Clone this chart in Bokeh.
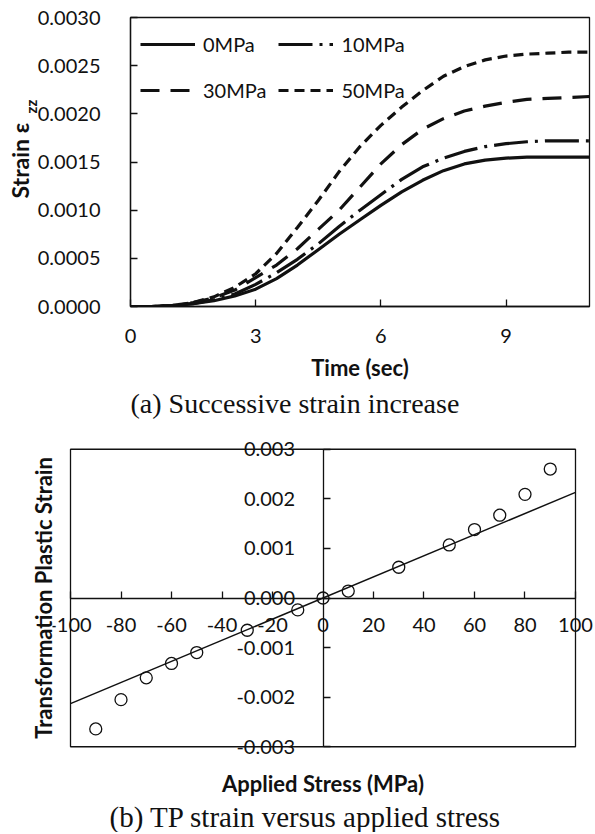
import numpy as np
from bokeh.plotting import figure
from bokeh.models import (Range1d, FixedTicker, PrintfTickFormatter, LinearAxis,
                          Legend, LegendItem, Title)
from bokeh.embed import file_html
from bokeh.resources import INLINE

# ---------------- data: (a) strain vs time ----------------
time_s = [0, 0.5, 1, 1.5, 2, 2.5, 3, 3.5, 4, 4.5, 5, 5.5, 6, 6.5, 7, 7.5, 8, 8.5, 9, 9.5, 10, 10.5, 11]
strain_0mpa = [0, 0, 0.00001, 0.00003, 0.00006, 0.00011, 0.00018, 0.00029, 0.00043, 0.00059, 0.00075,
               0.00090, 0.00105, 0.00119, 0.00131, 0.00141, 0.00148, 0.00152, 0.00154, 0.00155, 0.00155,
               0.00155, 0.00155]
strain_10mpa = [0, 0, 0.00001, 0.00003, 0.00007, 0.00013, 0.00023, 0.00035, 0.00049, 0.00065, 0.00083,
                0.00100, 0.00116, 0.00132, 0.00145, 0.00154, 0.00161, 0.00166, 0.00169, 0.00171, 0.00172,
                0.00172, 0.00172]
strain_30mpa = [0, 0, 0.00001, 0.00004, 0.00009, 0.00017, 0.00030, 0.00043, 0.00060, 0.00080, 0.00100,
                0.00124, 0.00148, 0.00168, 0.00184, 0.00195, 0.00203, 0.00208, 0.00212, 0.00215, 0.00216,
                0.00217, 0.00218]
strain_50mpa = [0, 0, 0.00001, 0.00004, 0.00010, 0.00020, 0.00034, 0.00055, 0.00082, 0.00110, 0.00140,
                0.00166, 0.00188, 0.00207, 0.00224, 0.00239, 0.00249, 0.00256, 0.00260, 0.00262, 0.00263,
                0.00264, 0.00264]
series_labels = ["0MPa", "10MPa", "30MPa", "50MPa"]
time_ticks = [0, 3, 6, 9]
strain_ticks = [0.0, 0.0005, 0.0010, 0.0015, 0.0020, 0.0025, 0.0030]

# ---------------- data: (b) TP strain vs applied stress ----------------
applied_stress = [-90, -80, -70, -60, -50, -30, -10, 0, 10, 30, 50, 60, 70, 80, 90]
tp_strain = [-0.00264, -0.00205, -0.00161, -0.00132, -0.00110, -0.00065, -0.00024, 0.0,
             0.00014, 0.00062, 0.00107, 0.00138, 0.00167, 0.00209, 0.00260]
fit_stress = [-100, 100]
fit_strain = [-0.00213, 0.00213]
stress_ticks = [-100, -80, -60, -40, -20, 0, 20, 40, 60, 80, 100]
tp_ticks = [-0.003, -0.002, -0.001, 0.0, 0.001, 0.002, 0.003]

SANS = "Lato"
SERIF = "Liberation Serif"
INK = "#111111"


def style_axis(ax, standoff):
    ax.axis_line_color = INK
    ax.axis_line_width = 1.3
    ax.major_tick_line_color = INK
    ax.major_tick_line_width = 1.3
    ax.major_tick_in = 7
    ax.major_tick_out = 0
    ax.minor_tick_line_color = None
    ax.major_label_text_font = SANS
    ax.major_label_text_font_size = "20px"
    ax.major_label_text_color = INK
    ax.major_label_standoff = standoff


# ================= figure (a) =================
p1 = figure(width=595, height=424, x_range=Range1d(0, 11), y_range=Range1d(0, 0.003),
            output_backend="svg", toolbar_location=None,
            min_border_left=130, min_border_right=6, min_border_top=17, min_border_bottom=118)
p1.grid.visible = False
p1.outline_line_color = INK
p1.outline_line_width = 1.3
p1.outline_line_alpha = 1.0

style_axis(p1.xaxis[0], 22)
style_axis(p1.yaxis[0], 30)
p1.xaxis[0].ticker = FixedTicker(ticks=time_ticks)
p1.yaxis[0].ticker = FixedTicker(ticks=strain_ticks)
p1.yaxis[0].formatter = PrintfTickFormatter(format="%.4f")
p1.xaxis[0].axis_label = "Time (sec)"
p1.xaxis[0].axis_label_text_font = SANS
p1.xaxis[0].axis_label_text_font_size = "22px"
p1.xaxis[0].axis_label_text_font_style = "bold"
p1.xaxis[0].axis_label_text_color = INK
p1.xaxis[0].axis_label_standoff = 8

dashes = ["solid", "34 7 3 7", "19 11", "10 6"]
series = [strain_0mpa, strain_10mpa, strain_30mpa, strain_50mpa]
items = []
for lab, ys, dash in zip(series_labels, series, dashes):
    r = p1.line(time_s, ys, line_color=INK, line_width=3.2, line_dash=dash)
    items.append(LegendItem(label=lab, renderers=[r]))

legend = Legend(items=items, location="top_left", orientation="horizontal", ncols=2,
                margin=10, padding=8, spacing=12, glyph_width=55, glyph_height=34,
                label_height=34, label_standoff=8,
                label_text_font=SANS, label_text_font_size="20px", label_text_color=INK,
                background_fill_alpha=0, border_line_color=None)
p1.add_layout(legend)

# y-axis title "Strain ε" with subscript "zz" (two rotated titles in the left panel)
p1.add_layout(Title(text="zz", text_font=SANS, text_font_size="15px", text_font_style="bold",
                    text_color=INK, align="left", offset=193, standoff=-10), "left")
p1.add_layout(Title(text="Strain \u03b5", text_font=SANS, text_font_size="23px", text_font_style="bold",
                    text_color=INK, align="left", offset=108, standoff=-18), "left")

p1.add_layout(Title(text="(a) Successive strain increase", text_font=SERIF, text_font_size="28px",
                    text_font_style="normal", text_color=INK, align="left", offset=0,
                    standoff=4), "below")

# ================= figure (b) =================
x_pad = 7.13      # room so that end tick labels are not clipped
y_pad = 0.000277
p2 = figure(width=595, height=408,
            x_range=Range1d(stress_ticks[0] - x_pad, stress_ticks[-1] + x_pad),
            y_range=Range1d(tp_ticks[0] - y_pad, tp_ticks[-1] + y_pad),
            output_backend="svg", toolbar_location=None,
            min_border_left=52, min_border_right=2, min_border_top=11, min_border_bottom=66)
p2.grid.visible = False
p2.outline_line_color = None

# plot box
p2.quad(left=[stress_ticks[0]], right=[stress_ticks[-1]], bottom=[tp_ticks[0]], top=[tp_ticks[-1]],
        fill_color=None, line_color=INK, line_width=1.3)

xa = p2.xaxis[0]
ya = p2.yaxis[0]
style_axis(xa, 20)
style_axis(ya, 28)
xa.ticker = FixedTicker(ticks=stress_ticks)
ya.ticker = FixedTicker(ticks=tp_ticks)
xa.formatter = PrintfTickFormatter(format="%d")
ya.formatter = PrintfTickFormatter(format="%.3f")
xa.fixed_location = 0
ya.fixed_location = 0
xa.bounds = (stress_ticks[0], stress_ticks[-1])
ya.bounds = (tp_ticks[0], tp_ticks[-1])

# label-only axes for the axis titles
xlab = LinearAxis(ticker=FixedTicker(ticks=[]), axis_line_color=None, major_tick_line_color=None,
                  minor_tick_line_color=None, major_label_standoff=0, major_tick_out=0, major_tick_in=0,
                  axis_label="Applied Stress (MPa)", axis_label_text_font=SANS,
                  axis_label_text_font_size="22px", axis_label_text_font_style="bold",
                  axis_label_text_color=INK, axis_label_standoff=9)
p2.add_layout(xlab, "below")
ylab = LinearAxis(ticker=FixedTicker(ticks=[]), axis_line_color=None, major_tick_line_color=None,
                  minor_tick_line_color=None, major_label_standoff=0, major_tick_out=0, major_tick_in=0,
                  axis_label="Transformation Plastic Strain", axis_label_text_font=SANS,
                  axis_label_text_font_size="22px", axis_label_text_font_style="bold",
                  axis_label_text_color=INK, axis_label_standoff=-4)
p2.add_layout(ylab, "left")

p2.line(fit_stress, fit_strain, line_color=INK, line_width=1.5)
p2.scatter(applied_stress, tp_strain, marker="circle", size=12, fill_color=None,
           line_color=INK, line_width=1.3)

p2.add_layout(Title(text="(b) TP strain versus applied stress", text_font=SERIF, text_font_size="29px",
                    text_font_style="normal", text_color=INK, align="left", offset=57,
                    standoff=-1), "below")

open("out.html", "w").write(file_html([p1, p2], INLINE))
